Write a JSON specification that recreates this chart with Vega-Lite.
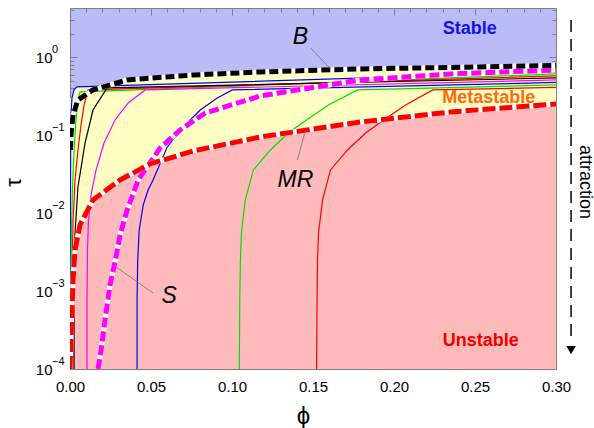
{
  "$schema": "https://vega.github.io/schema/vega-lite/v6.json",
  "width": 486,
  "height": 361,
  "autosize": {"type": "none"},
  "padding": {"left": 70, "top": 8, "right": 38, "bottom": 59},
  "background": "white",
  "config": {
    "view": {"fill": "#BBBBF8", "stroke": "#808080", "strokeWidth": 1},
    "font": "Liberation Sans"
  },
  "datasets": {
    "yellow": [
      {"phi": 0, "tau": 0.30}, {"phi": 0.0012, "tau": 0.30}, {"phi": 0.0025, "tau": 0.382},
      {"phi": 0.0043, "tau": 0.417}, {"phi": 0.0142, "tau": 0.425}, {"phi": 0.022, "tau": 0.44},
      {"phi": 0.0353, "tau": 0.513}, {"phi": 0.0761, "tau": 0.594}, {"phi": 0.1175, "tau": 0.65},
      {"phi": 0.179, "tau": 0.71}, {"phi": 0.235, "tau": 0.742}, {"phi": 0.30, "tau": 0.787}
    ],
    "mr": [
      {"phi": 0, "tau": 0.0001}, {"phi": 0.0006, "tau": 0.000236}, {"phi": 0.0012, "tau": 0.000571},
      {"phi": 0.0019, "tau": 0.00139}, {"phi": 0.0031, "tau": 0.00337}, {"phi": 0.0062, "tau": 0.00706},
      {"phi": 0.0142, "tau": 0.0148}, {"phi": 0.0309, "tau": 0.0267}, {"phi": 0.0495, "tau": 0.0429},
      {"phi": 0.0761, "tau": 0.0628}, {"phi": 0.1175, "tau": 0.0951}, {"phi": 0.1794, "tau": 0.148},
      {"phi": 0.235, "tau": 0.199}, {"phi": 0.30, "tau": 0.252}
    ],
    "s": [
      {"phi": 0.0173, "tau": 0.0001}, {"phi": 0.0192, "tau": 0.000175}, {"phi": 0.0216, "tau": 0.000425},
      {"phi": 0.0247, "tau": 0.0012}, {"phi": 0.0278, "tau": 0.00237}, {"phi": 0.0309, "tau": 0.00525},
      {"phi": 0.0353, "tau": 0.011}, {"phi": 0.0421, "tau": 0.0267}, {"phi": 0.0557, "tau": 0.0688},
      {"phi": 0.068, "tau": 0.117}, {"phi": 0.0835, "tau": 0.193}, {"phi": 0.1175, "tau": 0.32},
      {"phi": 0.1794, "tau": 0.513}, {"phi": 0.235, "tau": 0.612}, {"phi": 0.30, "tau": 0.689}
    ],
    "b": [
      {"phi": 0.0003, "tau": 0.0648}, {"phi": 0.0006, "tau": 0.101}, {"phi": 0.0019, "tau": 0.182},
      {"phi": 0.0049, "tau": 0.284}, {"phi": 0.0142, "tau": 0.382}, {"phi": 0.0353, "tau": 0.513},
      {"phi": 0.0761, "tau": 0.594}, {"phi": 0.1175, "tau": 0.65}, {"phi": 0.1794, "tau": 0.71},
      {"phi": 0.235, "tau": 0.742}, {"phi": 0.30, "tau": 0.787}
    ],
    "thin": [
      {"c": "b0", "k": 0, "phi": 0.0002, "tau": 0.0001}, {"c": "b0", "k": 1, "phi": 0.0002, "tau": 0.00337},
      {"c": "b0", "k": 2, "phi": 0.0004, "tau": 0.0648}, {"c": "b0", "k": 3, "phi": 0.0006, "tau": 0.182},
      {"c": "b0", "k": 4, "phi": 0.0012, "tau": 0.301}, {"c": "b0", "k": 5, "phi": 0.0025, "tau": 0.382},
      {"c": "b0", "k": 6, "phi": 0.0043, "tau": 0.417}, {"c": "b0", "k": 7, "phi": 0.30, "tau": 0.65},

      {"c": "g0", "k": 0, "phi": 0.0006, "tau": 0.0001}, {"c": "g0", "k": 1, "phi": 0.0006, "tau": 0.00139},
      {"c": "g0", "k": 2, "phi": 0.0009, "tau": 0.00608}, {"c": "g0", "k": 3, "phi": 0.0015, "tau": 0.01986},
      {"c": "g0", "k": 4, "phi": 0.0025, "tau": 0.0648}, {"c": "g0", "k": 5, "phi": 0.0037, "tau": 0.157},
      {"c": "g0", "k": 6, "phi": 0.0049, "tau": 0.284}, {"c": "g0", "k": 7, "phi": 0.0062, "tau": 0.36},
      {"c": "g0", "k": 8, "phi": 0.30, "tau": 0.612},

      {"c": "r0", "k": 0, "phi": 0.0012, "tau": 0.0001}, {"c": "r0", "k": 1, "phi": 0.0012, "tau": 0.00139},
      {"c": "r0", "k": 2, "phi": 0.0019, "tau": 0.00818}, {"c": "r0", "k": 3, "phi": 0.0031, "tau": 0.0267},
      {"c": "r0", "k": 4, "phi": 0.0049, "tau": 0.0648}, {"c": "r0", "k": 5, "phi": 0.0068, "tau": 0.1355},
      {"c": "r0", "k": 6, "phi": 0.0087, "tau": 0.245}, {"c": "r0", "k": 7, "phi": 0.0111, "tau": 0.382},
      {"c": "r0", "k": 8, "phi": 0.30, "tau": 0.578},

      {"c": "k1", "k": 0, "phi": 0.0025, "tau": 0.0001}, {"c": "k1", "k": 1, "phi": 0.0025, "tau": 0.000769},
      {"c": "k1", "k": 2, "phi": 0.0031, "tau": 0.00557}, {"c": "k1", "k": 3, "phi": 0.0049, "tau": 0.0217},
      {"c": "k1", "k": 4, "phi": 0.0093, "tau": 0.0796}, {"c": "k1", "k": 5, "phi": 0.0142, "tau": 0.211},
      {"c": "k1", "k": 6, "phi": 0.0229, "tau": 0.405}, {"c": "k1", "k": 7, "phi": 0.30, "tau": 0.544},

      {"c": "m1", "k": 0, "phi": 0.0105, "tau": 0.0001}, {"c": "m1", "k": 1, "phi": 0.0105, "tau": 0.000769},
      {"c": "m1", "k": 2, "phi": 0.0108, "tau": 0.00337}, {"c": "m1", "k": 3, "phi": 0.0114, "tau": 0.00818},
      {"c": "m1", "k": 4, "phi": 0.013, "tau": 0.01714}, {"c": "m1", "k": 5, "phi": 0.0161, "tau": 0.0359},
      {"c": "m1", "k": 6, "phi": 0.021, "tau": 0.0796}, {"c": "m1", "k": 7, "phi": 0.0278, "tau": 0.157},
      {"c": "m1", "k": 8, "phi": 0.0359, "tau": 0.26}, {"c": "m1", "k": 9, "phi": 0.0464, "tau": 0.382},
      {"c": "m1", "k": 10, "phi": 0.30, "tau": 0.513},

      {"c": "b1", "k": 0, "phi": 0.0414, "tau": 0.0001}, {"c": "b1", "k": 1, "phi": 0.0414, "tau": 0.000769},
      {"c": "b1", "k": 2, "phi": 0.0418, "tau": 0.00251}, {"c": "b1", "k": 3, "phi": 0.0427, "tau": 0.00608},
      {"c": "b1", "k": 4, "phi": 0.0452, "tau": 0.01274}, {"c": "b1", "k": 5, "phi": 0.0482, "tau": 0.01986},
      {"c": "b1", "k": 6, "phi": 0.0513, "tau": 0.0267}, {"c": "b1", "k": 7, "phi": 0.06, "tau": 0.0708},
      {"c": "b1", "k": 8, "phi": 0.0699, "tau": 0.1276}, {"c": "b1", "k": 9, "phi": 0.0804, "tau": 0.211},
      {"c": "b1", "k": 10, "phi": 0.0909, "tau": 0.301}, {"c": "b1", "k": 11, "phi": 0.1002, "tau": 0.382},
      {"c": "b1", "k": 12, "phi": 0.30, "tau": 0.476},

      {"c": "g1", "k": 0, "phi": 0.1045, "tau": 0.0001}, {"c": "g1", "k": 1, "phi": 0.1048, "tau": 0.000769},
      {"c": "g1", "k": 2, "phi": 0.1052, "tau": 0.00251}, {"c": "g1", "k": 3, "phi": 0.1058, "tau": 0.00557},
      {"c": "g1", "k": 4, "phi": 0.1082, "tau": 0.0148}, {"c": "g1", "k": 5, "phi": 0.1132, "tau": 0.0359},
      {"c": "g1", "k": 6, "phi": 0.1237, "tau": 0.0648}, {"c": "g1", "k": 7, "phi": 0.1348, "tau": 0.107},
      {"c": "g1", "k": 8, "phi": 0.146, "tau": 0.157}, {"c": "g1", "k": 9, "phi": 0.1596, "tau": 0.245},
      {"c": "g1", "k": 10, "phi": 0.1775, "tau": 0.382}, {"c": "g1", "k": 11, "phi": 0.30, "tau": 0.443},

      {"c": "r1", "k": 0, "phi": 0.1522, "tau": 0.0001}, {"c": "r1", "k": 1, "phi": 0.1525, "tau": 0.000769},
      {"c": "r1", "k": 2, "phi": 0.1528, "tau": 0.00251}, {"c": "r1", "k": 3, "phi": 0.1534, "tau": 0.00557},
      {"c": "r1", "k": 4, "phi": 0.1559, "tau": 0.0148}, {"c": "r1", "k": 5, "phi": 0.1608, "tau": 0.0359},
      {"c": "r1", "k": 6, "phi": 0.1713, "tau": 0.0648}, {"c": "r1", "k": 7, "phi": 0.1825, "tau": 0.107},
      {"c": "r1", "k": 8, "phi": 0.1936, "tau": 0.157}, {"c": "r1", "k": 9, "phi": 0.2072, "tau": 0.245},
      {"c": "r1", "k": 10, "phi": 0.2239, "tau": 0.382}, {"c": "r1", "k": 11, "phi": 0.30, "tau": 0.411}
    ],
    "leaders": [
      {"phi": 0.1485, "tau": 1.32, "phi2": 0.1608, "tau2": 0.71},
      {"phi": 0.1404, "tau": 0.0482, "phi2": 0.1454, "tau2": 0.117},
      {"phi": 0.0513, "tau": 0.000946, "phi2": 0.0266, "tau2": 0.00216}
    ],
    "names": [
      {"label": "B", "phi": 0.1423, "tau": 1.83},
      {"label": "MR", "phi": 0.1392, "tau": 0.0267},
      {"label": "S", "phi": 0.0612, "tau": 0.000865}
    ],
    "regions": [
      {"label": "Stable", "phi": 0.2468, "tau": 2.32},
      {"label": "Metastable", "phi": 0.2585, "tau": 0.301},
      {"label": "Unstable", "phi": 0.2536, "tau": 0.000228}
    ],
    "exps": [
      {"phi": 0, "tau": 1, "e": "0"},
      {"phi": 0, "tau": 0.1, "e": "−1"},
      {"phi": 0, "tau": 0.01, "e": "−2"},
      {"phi": 0, "tau": 0.001, "e": "−3"},
      {"phi": 0, "tau": 0.0001, "e": "−4"}
    ],
    "arrow": [{"phi": 0.3093, "tau": 3.02, "tau2": 0.000236}],
    "head": [{"phi": 0.3093, "tau": 0.000175}],
    "atext": [{"label": "attraction", "phi": 0.3176, "tau": 0.0251}]
  },
  "encoding": {
    "x": {"field": "phi", "type": "quantitative", "scale": {"domain": [0, 0.3], "nice": false, "zero": false}, "axis": null},
    "y": {"field": "tau", "type": "quantitative", "scale": {"type": "log", "domain": [0.0001, 4.3], "nice": false}, "axis": null}
  },
  "layer": [
    {
      "data": {"name": "yellow"},
      "mark": {"type": "area", "color": "#FFFFC4", "clip": true},
      "encoding": {
        "x": {"field": "phi", "type": "quantitative", "scale": {"domain": [0, 0.3], "nice": false, "zero": false},
          "axis": {
            "orient": "bottom",
            "values": [0,0.01,0.02,0.03,0.04,0.05,0.06,0.07,0.08,0.09,0.1,0.11,0.12,0.13,0.14,0.15,0.16,0.17,0.18,0.19,0.2,0.21,0.22,0.23,0.24,0.25,0.26,0.27,0.28,0.29,0.3],
            "labelExpr": "abs(datum.value*20-round(datum.value*20))<1e-6 ? format(datum.value,'.2f') : ''",
            "tickSize": {"condition": {"test": "abs(datum.value*20-round(datum.value*20))<1e-6", "value": -7}, "value": -4},
            "tickColor": "#808080", "domain": false, "grid": false,
            "labelFontSize": 15, "labelColor": "#000000", "labelFlush": false, "labelOverlap": false, "labelPadding": 17,
            "title": "ϕ", "titleFontSize": 24, "titleFontWeight": "normal", "titleColor": "#000000",
            "titleX": 233, "titleY": 47, "titleBaseline": "middle", "titleAlign": "center"
          }
        },
        "y": {"field": "tau", "type": "quantitative", "scale": {"type": "log", "domain": [0.0001, 4.3], "nice": false},
          "axis": {
            "orient": "left",
            "values": [0.0001,0.0002,0.0003,0.0004,0.0005,0.0006,0.0007,0.0008,0.0009,0.001,0.002,0.003,0.004,0.005,0.006,0.007,0.008,0.009,0.01,0.02,0.03,0.04,0.05,0.06,0.07,0.08,0.09,0.1,0.2,0.3,0.4,0.5,0.6,0.7,0.8,0.9,1,2,3,4],
            "labelExpr": "abs(log(datum.value)/LN10-round(log(datum.value)/LN10))<1e-6 ? '10' : ''",
            "tickSize": {"condition": {"test": "abs(log(datum.value)/LN10-round(log(datum.value)/LN10))<1e-6", "value": -7}, "value": -4},
            "tickColor": "#808080", "domain": false, "grid": false,
            "labelFontSize": 15, "labelColor": "#000000", "labelFlush": false, "labelOverlap": false, "labelPadding": 25,
            "title": "τ", "titleFontSize": 22, "titleFontWeight": "normal", "titleColor": "#000000",
            "titleX": -57, "titleY": 174, "titleBaseline": "middle", "titleAlign": "center"
          }
        },
        "y2": {"datum": 0.0001}
      }
    },
    {
      "data": {"name": "mr"},
      "mark": {"type": "area", "color": "#FFBBBB", "clip": true},
      "encoding": {
        "x": {"field": "phi", "type": "quantitative", "scale": {"domain": [0, 0.3], "nice": false, "zero": false},
          "axis": {
            "orient": "top",
            "values": [0,0.01,0.02,0.03,0.04,0.05,0.06,0.07,0.08,0.09,0.1,0.11,0.12,0.13,0.14,0.15,0.16,0.17,0.18,0.19,0.2,0.21,0.22,0.23,0.24,0.25,0.26,0.27,0.28,0.29,0.3],
            "labels": false,
            "tickSize": {"condition": {"test": "abs(datum.value*20-round(datum.value*20))<1e-6", "value": -7}, "value": -4},
            "tickColor": "#808080", "domain": false, "grid": false, "title": null
          }
        },
        "y": {"field": "tau", "type": "quantitative", "scale": {"type": "log", "domain": [0.0001, 4.3], "nice": false},
          "axis": {
            "orient": "right",
            "values": [0.0001,0.0002,0.0003,0.0004,0.0005,0.0006,0.0007,0.0008,0.0009,0.001,0.002,0.003,0.004,0.005,0.006,0.007,0.008,0.009,0.01,0.02,0.03,0.04,0.05,0.06,0.07,0.08,0.09,0.1,0.2,0.3,0.4,0.5,0.6,0.7,0.8,0.9,1,2,3,4],
            "labels": false,
            "tickSize": {"condition": {"test": "abs(log(datum.value)/LN10-round(log(datum.value)/LN10))<1e-6", "value": -7}, "value": -4},
            "tickColor": "#808080", "domain": false, "grid": false, "title": null
          }
        },
        "y2": {"datum": 0.0001}
      }
    },
    {
      "data": {"name": "thin"},
      "mark": {"type": "line", "strokeWidth": 1.2, "clip": true},
      "encoding": {
        "color": {"field": "c", "type": "nominal", "legend": null,
          "scale": {"domain": ["b0","g0","r0","k1","m1","b1","g1","r1"],
                    "range": ["#0000FF","#00E000","#FF0000","#000000","#FF00FF","#0000FF","#00E000","#FF0000"]}},
        "order": {"field": "k", "type": "quantitative"}
      }
    },
    {"data": {"name": "s"}, "mark": {"type": "line", "color": "white", "strokeWidth": 5, "clip": true}, "encoding": {}},
    {"data": {"name": "s"}, "mark": {"type": "line", "color": "#FF00FF", "strokeWidth": 5, "strokeDash": [10, 4], "clip": true}, "encoding": {}},
    {"data": {"name": "mr"}, "mark": {"type": "line", "color": "white", "strokeWidth": 5, "clip": true}, "encoding": {}},
    {"data": {"name": "mr"}, "mark": {"type": "line", "color": "#FF0000", "strokeWidth": 5, "strokeDash": [13, 4], "clip": true}, "encoding": {}},
    {"data": {"name": "b"}, "mark": {"type": "line", "color": "white", "strokeWidth": 5, "clip": true}, "encoding": {}},
    {"data": {"name": "b"}, "mark": {"type": "line", "color": "#000000", "strokeWidth": 5, "strokeDash": [9, 4], "clip": true}, "encoding": {}},
    {
      "data": {"name": "leaders"},
      "mark": {"type": "rule", "color": "#707070", "strokeWidth": 0.8},
      "encoding": {"x2": {"field": "phi2"}, "y2": {"field": "tau2"}}
    },
    {
      "data": {"name": "names"},
      "mark": {"type": "text", "fontSize": 23, "fontStyle": "italic", "color": "#000000", "align": "center", "baseline": "middle", "font": "Liberation Sans"},
      "encoding": {"text": {"field": "label"}}
    },
    {
      "data": {"name": "regions"},
      "mark": {"type": "text", "fontSize": 18, "fontWeight": "bold", "align": "center", "baseline": "middle", "font": "Liberation Sans"},
      "encoding": {
        "text": {"field": "label"},
        "color": {"field": "label", "type": "nominal", "legend": null,
          "scale": {"domain": ["Stable", "Metastable", "Unstable"], "range": ["#1414E6", "#FF6A10", "#F00000"]}}
      }
    },
    {
      "data": {"name": "exps"},
      "mark": {"type": "text", "fontSize": 11, "align": "left", "baseline": "middle", "dx": -18, "dy": -7, "color": "#000000", "font": "Liberation Sans"},
      "encoding": {"text": {"field": "e"}}
    },
    {
      "data": {"name": "arrow"},
      "mark": {"type": "rule", "color": "#000000", "strokeWidth": 1.5, "strokeDash": [12, 7]},
      "encoding": {"y2": {"field": "tau2"}}
    },
    {
      "data": {"name": "head"},
      "mark": {"type": "point", "shape": "triangle-down", "filled": true, "color": "#000000", "size": 90, "opacity": 1},
      "encoding": {}
    },
    {
      "data": {"name": "atext"},
      "mark": {"type": "text", "fontSize": 18, "angle": 90, "align": "center", "baseline": "middle", "color": "#000000", "font": "Liberation Sans"},
      "encoding": {"text": {"field": "label"}}
    }
  ],
  "resolve": {"axis": {"x": "independent", "y": "independent"}, "scale": {"color": "independent"}}
}
